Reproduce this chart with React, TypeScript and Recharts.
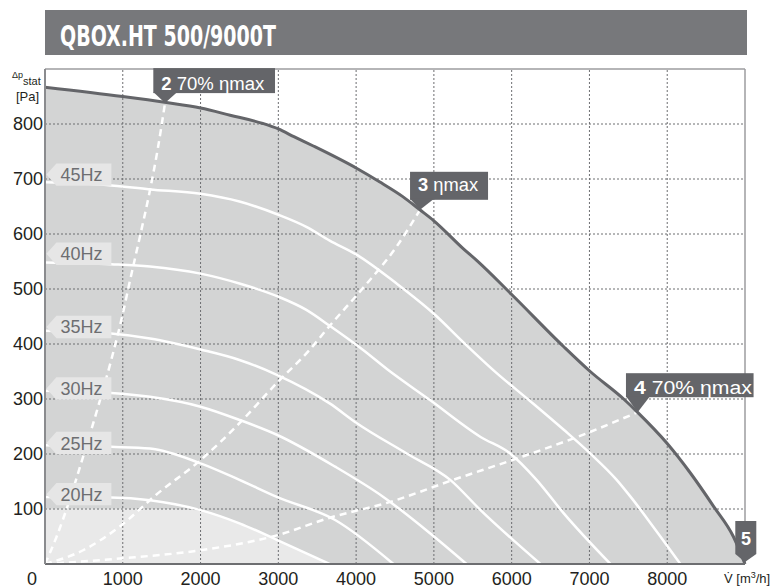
import React from "react";
import {
  Area,
  ComposedChart,
  Line,
  ReferenceLine,
  XAxis,
  YAxis,
} from "recharts";

// [flow m3/h, static pressure Pa]
const maxCurve = [
  [0, 867], [1000, 850], [1560, 839], [2000, 829], [2380, 816], [2800, 801],
  [3000, 791], [3200, 777], [3450, 760], [4000, 720], [4300, 695], [4600, 668],
  [4820, 644], [5000, 624], [5380, 573], [5550, 552], [6000, 490], [6670, 395],
  [7010, 350], [7440, 300], [7610, 277], [8000, 219], [8300, 165], [8600, 104],
  [8850, 50], [9000, 0],
];
const lightZone = [
  [0, 101], [1000, 101], [1600, 100], [2000, 97], [2500, 74], [2980, 44], [3660, 0],
];
const hz45 = [
  [0, 694], [790, 689], [1350, 681], [2000, 673], [2500, 659], [3000, 635],
  [3360, 613], [3660, 588], [4000, 563], [4520, 510], [5000, 455], [5380, 403],
  [5800, 348], [6240, 296], [6670, 244], [7010, 201], [7350, 153], [7530, 122],
  [7850, 62], [8170, 0],
];
const hz40 = [
  [0, 548], [850, 545], [1350, 541], [2000, 528], [2500, 510], [3000, 486],
  [3360, 462], [3660, 433], [4090, 389], [4400, 354], [4950, 298], [5600, 231],
  [5980, 201], [6320, 153], [6670, 92], [7270, 0],
];
const hz35 = [
  [0, 424], [850, 419], [1350, 410], [2000, 390], [2500, 371], [2980, 344],
  [3660, 292], [4010, 256], [4650, 201], [5210, 153], [5600, 98], [6370, 0],
];
const hz30 = [
  [0, 315], [850, 311], [1350, 304], [2000, 286], [2500, 262], [2980, 235],
  [3730, 177], [4350, 122], [4950, 56], [5420, 0],
];
const hz25 = [
  [0, 216], [850, 213], [1350, 210], [2000, 183], [2500, 153], [2980, 122],
  [3730, 80], [4480, 0],
];
const hz20 = [
  [0, 122], [850, 121], [1350, 116], [2000, 98], [2500, 74], [2980, 44], [3660, 0],
];
const sys2 = [
  [0, 0], [150, 50], [320, 118], [490, 195], [660, 275], [850, 370], [1000, 455],
  [1100, 520], [1220, 595], [1350, 680], [1450, 755], [1543, 838],
];
const sys3 = [
  [0, 0], [490, 25], [960, 68], [1430, 126], [2000, 189], [2500, 256],
  [2980, 329], [3400, 389], [3660, 433], [4090, 502], [4520, 577], [4822, 644],
];
const sys4 = [
  [0, 0], [960, 10], [2000, 25], [2980, 52], [3660, 84], [4440, 113],
  [5250, 153], [6070, 192], [6880, 233], [7620, 276],
];

const freqLabels = ["45Hz", "40Hz", "35Hz", "30Hz", "25Hz", "20Hz"];
const freqLabelY = [708, 564, 431, 319, 220, 127];
const freqCurves = [hz45, hz40, hz35, hz30, hz25, hz20];

// operating points marked on the max curve: [flow, pressure]
const point2 = [1543, 838];
const point3 = [4822, 644];
const point4 = [7620, 276];
const point5 = [9000, 0];

const xTicks = [0, 1000, 2000, 3000, 4000, 5000, 6000, 7000, 8000];
const yTicks = [100, 200, 300, 400, 500, 600, 700, 800];

const toPts = (arr: number[][]) => arr.map(([q, p]) => ({ q, p }));

const FONT = "'Liberation Sans', Arial, sans-serif";
const DARK = "#646569";

function XTick({ x, y, payload }: any) {
  const shift = payload.value === 0 ? -13 : 0;
  return (
    <text x={x + shift} y={y + 21} textAnchor="middle" fontSize={18} fontFamily={FONT} fill="#231f20">
      {payload.value}
    </text>
  );
}

function YTick({ y, payload }: any) {
  return (
    <text x={43} y={y} dy="0.36em" textAnchor="end" fontSize={18} fontFamily={FONT} fill="#231f20">
      {payload.value}
    </text>
  );
}

function FreqTag({ cx, cy, text }: any) {
  const tx = cx + 1.4;
  const pts = `${tx},${cy} ${tx + 10},${cy - 11.2} ${tx + 65},${cy - 11.2} ${tx + 65},${cy + 11.2} ${tx + 10},${cy + 11.2}`;
  return (
    <g>
      <polygon points={pts} fill="#e6e6e6" />
      <text x={tx + 14} y={cy + 6.5} fontSize={18} fontFamily={FONT} fill="#6d6e71">
        {text}
      </text>
    </g>
  );
}

function DarkTag({ cx, cy, num, rest, dx, dy, w, h, textLen, base }: any) {
  const left = cx + dx;
  const top = cy + dy;
  const bottom = top + h;
  return (
    <g>
      <rect x={left} y={top} width={w} height={h} fill={DARK} />
      <polygon points={`${left},${bottom - 1} ${left + 24},${bottom - 1} ${cx},${cy}`} fill={DARK} />
      <text x={left + 8} y={bottom - base} fontSize={18} fontFamily={FONT} fill="#fff" textLength={textLen} lengthAdjust="spacingAndGlyphs">
        <tspan fontWeight="bold">{num}</tspan>
        {rest}
      </text>
    </g>
  );
}

function EndTag({ cx, cy }: any) {
  const pts = `${cx - 9.7},${cy - 43} ${cx + 11.3},${cy - 43} ${cx + 11.3},${cy - 10} ${cx},${cy - 2} ${cx - 9.7},${cy - 10}`;
  return (
    <g>
      <polygon points={pts} fill={DARK} />
      <text x={cx + 1} y={cy - 19} textAnchor="middle" fontSize={18} fontWeight="bold" fontFamily={FONT} fill="#fff">
        5
      </text>
    </g>
  );
}

// a one-point series whose dot is the annotation, so it sits on top of the curves
function tagSeries(key: string, pt: number[], render: (p: any) => React.ReactElement) {
  return (
    <Line
      key={key}
      data={toPts([pt])}
      dataKey="p"
      stroke="none"
      isAnimationActive={false}
      activeDot={false}
      dot={(p: any) => <g key={key + "-dot"}>{render(p)}</g>}
    />
  );
}

export default function App() {
  return (
    <div style={{ position: "absolute", left: 0, top: 0, width: 773, height: 588, background: "#fff" }}>
      <ComposedChart width={773} height={588} margin={{ top: 69, right: 28, bottom: 0, left: 0 }}>
        <XAxis
          dataKey="q"
          type="number"
          domain={[0, 9000]}
          ticks={xTicks}
          height={24}
          tickLine={false}
          tickSize={0}
          tickMargin={0}
          tick={<XTick />}
          axisLine={{ stroke: "#6d6e71", strokeWidth: 2 }}
        />
        <YAxis
          dataKey="p"
          type="number"
          domain={[0, 900]}
          ticks={yTicks}
          width={45}
          tickLine={false}
          tick={<YTick />}
          axisLine={{ stroke: "#8a8b8e", strokeWidth: 2 }}
        />
        <Area data={toPts(maxCurve)} dataKey="p" type="monotone" fill="#d3d4d4" fillOpacity={1} stroke="none" isAnimationActive={false} />
        <Area data={toPts(lightZone)} dataKey="p" type="monotone" fill="#e9e9e9" fillOpacity={1} stroke="none" isAnimationActive={false} />
        {xTicks.slice(1).map((v) => (
          <ReferenceLine key={"gx" + v} x={v} stroke="#6d6e71" strokeDasharray="2 2" strokeWidth={1} />
        ))}
        {yTicks.map((v) => (
          <ReferenceLine key={"gy" + v} y={v} stroke="#6d6e71" strokeDasharray="2 2" strokeWidth={1} />
        ))}
        <ReferenceLine y={900} stroke="#9c9d9f" strokeWidth={1.5} />
        <ReferenceLine x={9000} stroke="#9c9d9f" strokeWidth={1.5} />
        {freqCurves.map((c, i) => (
          <Line key={freqLabels[i]} data={toPts(c)} dataKey="p" type="monotone" stroke="#fff" strokeWidth={2.5} dot={false} isAnimationActive={false} />
        ))}
        {[sys2, sys3, sys4].map((c, i) => (
          <Line key={"sys" + i} data={toPts(c)} dataKey="p" type="monotone" stroke="#fff" strokeWidth={2.5} strokeDasharray="7 5" dot={false} isAnimationActive={false} />
        ))}
        <Line data={toPts(maxCurve)} dataKey="p" type="monotone" stroke={DARK} strokeWidth={3} dot={false} isAnimationActive={false} />
        {freqLabels.map((t, i) =>
          tagSeries("ft" + t, [0, freqLabelY[i]], (p) => <FreqTag cx={p.cx} cy={p.cy} text={t} />)
        )}
        {tagSeries("tag2", point2, (p) => (
          <DarkTag cx={p.cx} cy={p.cy} num="2" rest=" 70% ηmax" dx={-11.7} dy={-35} w={121.7} h={25} textLen={103} base={3.5} />
        ))}
        {tagSeries("tag3", point3, (p) => (
          <DarkTag cx={p.cx} cy={p.cy} num="3" rest=" ηmax" dx={-10} dy={-38} w={78} h={28} textLen={60} base={9} />
        ))}
        {tagSeries("tag4", point4, (p) => (
          <DarkTag cx={p.cx} cy={p.cy} num="4" rest=" 70% ηmax" dx={-11.7} dy={-39} w={127.6} h={24} textLen={118} base={3} />
        ))}
        {tagSeries("tag5", point5, (p) => <EndTag cx={p.cx} cy={p.cy} />)}
      </ComposedChart>
      <svg width={773} height={588} style={{ position: "absolute", left: 0, top: 0, pointerEvents: "none" }}>
        <rect x={45} y={10} width={702} height={45} fill="#77787b" />
        <text x={60} y={46} fontSize={29} fontWeight="bold" fontFamily="'Liberation Sans Narrow', 'DejaVu Sans Condensed', sans-serif" fill="#fff" textLength={216} lengthAdjust="spacingAndGlyphs">
          QBOX.HT 500/9000T
        </text>
        <text x={12} y={78} fontFamily={FONT} fill="#231f20">
          <tspan fontSize={9}>Δp</tspan>
          <tspan fontSize={11} dy={7}>stat</tspan>
        </text>
        <text x={16} y={101} fontSize={13} fontFamily={FONT} fill="#231f20">[Pa]</text>
        <text x={724} y={583} fontSize={13} fontFamily={FONT} fill="#231f20">
          {"V\u0307 [m"}<tspan fontSize={9} dy={-5}>3</tspan><tspan dy={5}>/h]</tspan>
        </text>
      </svg>
    </div>
  );
}
